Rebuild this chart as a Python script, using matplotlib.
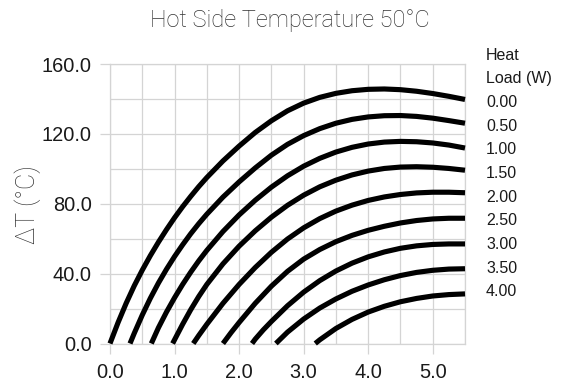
import matplotlib
matplotlib.use("Agg")
import matplotlib.pyplot as plt
from matplotlib.ticker import MultipleLocator, FixedLocator, FixedFormatter

# ---------------- data ----------------
heat_loads = ["0.00", "0.50", "1.00", "1.50", "2.00", "2.50", "3.00", "3.50", "4.00"]

i_q000 = [0.0, 0.125, 0.25, 0.375, 0.5, 0.625, 0.75, 0.875, 1.0, 1.125, 1.25, 1.375,
          1.5, 1.75, 2.0, 2.25, 2.5, 2.75, 3.0, 3.25, 3.5, 3.75, 4.0, 4.25, 4.5,
          4.75, 5.0, 5.25, 5.5]
dt_q000 = [0, 12, 23, 33, 42, 50.3, 58, 65.2, 72, 78.3, 84.2, 89.8,
           95.0, 104.5, 113.0, 120.8, 127.5, 133.2, 137.6, 140.9, 143.2, 144.7, 145.5, 145.7, 145.3,
           144.4, 143.1, 141.5, 139.7]

i_q050 = [0.31, 0.375, 0.5, 0.625, 0.75, 0.875, 1.0, 1.125, 1.25, 1.375, 1.5,
          1.75, 2.0, 2.25, 2.5, 2.75, 3.0, 3.25, 3.5, 3.75, 4.0, 4.25, 4.5,
          4.75, 5.0, 5.25, 5.5]
dt_q050 = [0, 5.8, 16.3, 25.9, 34.6, 42.5, 49.8, 56.5, 62.8, 68.6, 74.0,
           83.8, 92.5, 100.5, 107.8, 114.0, 119.0, 123.0, 126.1, 128.3, 129.7, 130.4, 130.5,
           130.0, 129.0, 127.6, 126.1]

i_q100 = [0.64, 0.75, 0.875, 1.0, 1.125, 1.25, 1.375, 1.5,
          1.75, 2.0, 2.25, 2.5, 2.75, 3.0, 3.25, 3.5, 3.75, 4.0, 4.25, 4.5,
          4.75, 5.0, 5.25, 5.5]
dt_q100 = [0, 9.0, 18.0, 26.2, 33.8, 40.8, 47.3, 53.3,
           64.1, 73.6, 82.0, 89.5, 96.0, 101.5, 106.0, 109.6, 112.3, 114.2, 115.3, 115.7,
           115.5, 114.8, 113.6, 111.9]

i_q150 = [0.97, 1.125, 1.25, 1.375, 1.5,
          1.75, 2.0, 2.25, 2.5, 2.75, 3.0, 3.25, 3.5, 3.75, 4.0, 4.25, 4.5,
          4.75, 5.0, 5.25, 5.5]
dt_q150 = [0, 11.0, 19.3, 26.9, 33.8,
           45.6, 55.7, 64.5, 72.3, 79.1, 84.9, 89.7, 93.5, 96.5, 98.7, 100.2, 101.0,
           101.2, 100.9, 100.2, 99.2]

i_q200 = [1.29, 1.375, 1.5,
          1.75, 2.0, 2.25, 2.5, 2.75, 3.0, 3.25, 3.5, 3.75, 4.0, 4.25, 4.5,
          4.75, 5.0, 5.25, 5.5]
dt_q200 = [0, 4.6, 11.0,
           23.0, 33.8, 43.5, 52.2, 59.8, 66.2, 71.5, 75.8, 79.2, 81.9, 83.9, 85.3,
           86.2, 86.6, 86.6, 86.3]

i_q250 = [1.75, 1.875, 2.0, 2.25, 2.5, 2.75, 3.0, 3.25, 3.5, 3.75, 4.0, 4.25, 4.5,
          4.75, 5.0, 5.25, 5.5]
dt_q250 = [0, 6.2, 12.0, 23.0, 32.8, 41.3, 48.3, 53.8, 58.3, 61.9, 64.8, 67.1, 69.0,
           70.4, 71.3, 71.7, 71.7]

i_q300 = [2.2, 2.25, 2.375, 2.5, 2.75, 3.0, 3.25, 3.5, 3.75, 4.0, 4.25, 4.5,
          4.75, 5.0, 5.25, 5.5]
dt_q300 = [0, 2.5, 7.8, 12.6, 21.6, 29.4, 36.0, 41.5, 46.0, 49.6, 52.4, 54.5,
           55.9, 56.7, 57.0, 57.0]

i_q350 = [2.57, 2.75, 3.0, 3.25, 3.5, 3.75, 4.0, 4.25, 4.5, 4.75, 5.0, 5.25, 5.5]
dt_q350 = [0, 6.5, 14.0, 20.3, 25.5, 29.9, 33.5, 36.5, 38.9, 40.7, 41.9, 42.6, 42.8]

i_q400 = [3.18, 3.25, 3.5, 3.75, 4.0, 4.25, 4.5, 4.75, 5.0, 5.25, 5.5]
dt_q400 = [0, 2.1, 8.6, 13.8, 18.0, 21.3, 23.9, 25.8, 27.2, 28.0, 28.4]

x_ticks = [0, 1, 2, 3, 4, 5]
x_tick_labels = ["0.0", "1.0", "2.0", "3.0", "4.0", "5.0"]
y_ticks = [0, 40, 80, 120, 160]
y_tick_labels = ["0.0", "40.0", "80.0", "120.0", "160.0"]

title_text = "Hot Side Temperature 50°C"
y_label = "ΔT (°C)"
legend_head = ["Heat", "Load (W)"]

# ---------------- figure ----------------
W, H = 561, 385
fig = plt.figure(figsize=(W / 100, H / 100), dpi=100)
ax = fig.add_axes([110 / W, 1 - 343.5 / H, (465 - 110) / W, (343.5 - 64) / H])

series = [(i_q000, dt_q000), (i_q050, dt_q050), (i_q100, dt_q100),
          (i_q150, dt_q150), (i_q200, dt_q200), (i_q250, dt_q250),
          (i_q300, dt_q300), (i_q350, dt_q350), (i_q400, dt_q400)]
for xs, ys in series:
    ax.plot(xs, ys, color="black", lw=3.7, solid_capstyle="butt",
            solid_joinstyle="round", clip_on=False, zorder=3)

ax.set_xlim(0, 5.5)
ax.set_ylim(0, 160)

grid_c = "#d4d4d4"
ax.xaxis.set_major_locator(FixedLocator(x_ticks))
ax.xaxis.set_major_formatter(FixedFormatter(x_tick_labels))
ax.xaxis.set_minor_locator(MultipleLocator(0.5))
ax.yaxis.set_major_locator(FixedLocator(y_ticks))
ax.yaxis.set_major_formatter(FixedFormatter(y_tick_labels))
ax.yaxis.set_minor_locator(MultipleLocator(20))
ax.grid(True, which="both", color=grid_c, lw=0.9, zorder=0)
ax.set_axisbelow(True)
for s in ax.spines.values():
    s.set_color(grid_c)
    s.set_linewidth(0.9)

tick_family = ["Liberation Sans", "DejaVu Sans"]
ax.tick_params(axis="both", which="major", length=7, width=0.9, color=grid_c,
               labelcolor="#1a1a1a")
ax.tick_params(axis="both", which="minor", length=0)
ax.tick_params(axis="x", which="major", pad=7)
ax.tick_params(axis="y", which="major", pad=6)
for lab in ax.get_xticklabels() + ax.get_yticklabels():
    lab.set_fontfamily(tick_family)
    lab.set_fontsize(14.4)

fig.text(290 / W, 1 - 21 / H, title_text, ha="center", va="center",
         fontsize=17, color="#333333", family=["Roboto", "DejaVu Sans"],
         fontweight="light")
fig.text(28 / W, 1 - 205 / H, y_label, ha="center", va="center", rotation=90,
         fontsize=18, color="#333333", family=["Roboto", "DejaVu Sans"],
         fontweight="light")

lab_font = ["Liberation Sans", "DejaVu Sans"]
labels = legend_head + heat_loads
y0, step = 55.0, 23.67
for k, t in enumerate(labels):
    fig.text(486 / W, 1 - (y0 + step * k) / H, t, ha="left", va="center",
             fontsize=11.5, color="#1a1a1a", family=lab_font)

fig.savefig("out.png", dpi=100)
